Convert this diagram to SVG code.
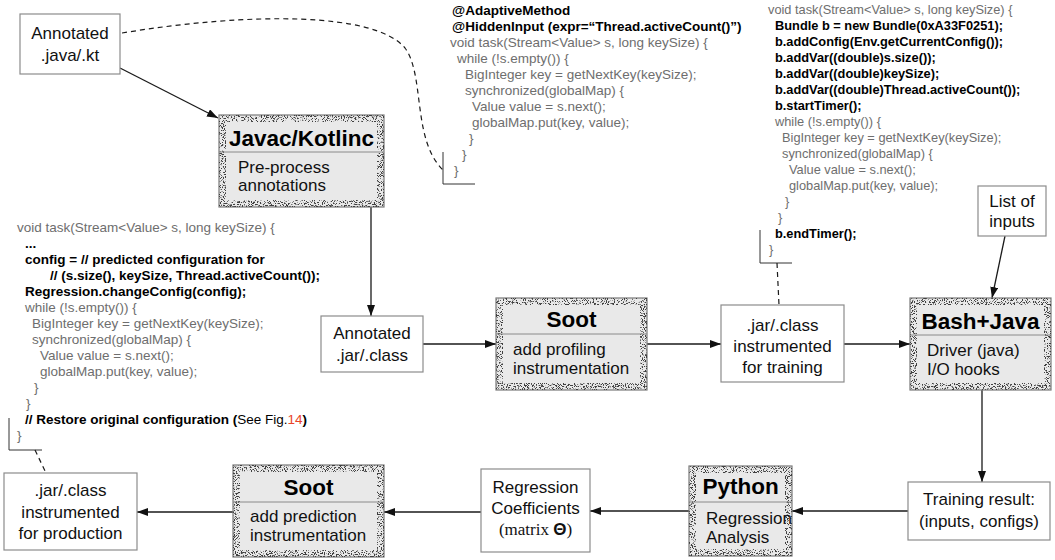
<svg xmlns="http://www.w3.org/2000/svg" width="1055" height="560" viewBox="0 0 1055 560">
<style>
.bg{fill:#ffffff}
.box{fill:#ffffff;stroke:#8c8c8c;stroke-width:1.2}
.tool{fill:#e9e9e9;stroke:#7a7a7a;stroke-width:1.2}
.band{fill:none;stroke:#000;stroke-width:7}
.div{stroke:#8a8a8a;stroke-width:1}
.lbl{font-family:"Liberation Sans",Arial,sans-serif;font-size:17px;fill:#111}
.mid{text-anchor:middle}
.ttl{font-family:"Liberation Sans",Arial,sans-serif;font-size:22.5px;font-weight:bold;fill:#000;text-anchor:middle}
.code{font-family:"Liberation Sans",Arial,sans-serif;font-size:13.5px;fill:#6e6e6e}
.code2{font-size:12.8px}
.b{font-weight:bold;fill:#000}
.conn{stroke:#1a1a1a;stroke-width:1.3;fill:none}
.dash{stroke:#1a1a1a;stroke-width:1.2;fill:none;stroke-dasharray:5,4}
.brk{stroke:#333;stroke-width:1;fill:none}
</style>
<defs>
<marker id="ah" markerWidth="11" markerHeight="8" refX="11" refY="4" orient="auto" markerUnits="userSpaceOnUse">
<path d="M0,0 L11,4 L0,8 z" fill="#111"/>
</marker>
<filter id="spk" color-interpolation-filters="sRGB">
<feTurbulence type="fractalNoise" baseFrequency="0.9" numOctaves="2" seed="7" result="t"/>
<feColorMatrix in="t" type="matrix" values="0 0 0 0 0.25  0 0 0 0 0.25  0 0 0 0 0.25  12 0 0 0 -6.4" result="d"/>
<feComposite in="d" in2="SourceAlpha" operator="in"/>
</filter>
</defs>
<rect class="bg" x="0" y="0" width="1055" height="560"/>

<!-- code blocks -->
<g id="code1" class="code">
<text x="452" y="15" class="b">@AdaptiveMethod</text>
<text x="452" y="31" class="b">@HiddenInput (expr=“Thread.activeCount()”)</text>
<text x="450" y="47">void task(Stream&lt;Value&gt; s, long keySize) {</text>
<text x="457" y="63">while (!s.empty()) {</text>
<text x="465" y="79">BigInteger key = getNextKey(keySize);</text>
<text x="465" y="95">synchronized(globalMap) {</text>
<text x="472" y="111">Value value = s.next();</text>
<text x="472" y="127">globalMap.put(key, value);</text>
<text x="469" y="143">}</text>
<text x="462" y="159">}</text>
<text x="454" y="175">}</text>
<path class="brk" d="M443,152 V184 H475"/>
</g>

<g id="code2" class="code code2">
<text x="768" y="14">void task(Stream&lt;Value&gt; s, long keySize) {</text>
<text x="775" y="30" class="b">Bundle b = new Bundle(0xA33F0251);</text>
<text x="775" y="46" class="b">b.addConfig(Env.getCurrentConfig());</text>
<text x="775" y="62" class="b">b.addVar((double)s.size());</text>
<text x="775" y="78" class="b">b.addVar((double)keySize);</text>
<text x="775" y="94" class="b">b.addVar((double)Thread.activeCount());</text>
<text x="775" y="110" class="b">b.startTimer();</text>
<text x="775" y="126">while (!s.empty()) {</text>
<text x="782" y="142">BigInteger key = getNextKey(keySize);</text>
<text x="782" y="158">synchronized(globalMap) {</text>
<text x="789" y="174">Value value = s.next();</text>
<text x="789" y="190">globalMap.put(key, value);</text>
<text x="785" y="206">}</text>
<text x="778" y="222">}</text>
<text x="775" y="238" class="b">b.endTimer();</text>
<text x="769" y="254">}</text>
<path class="brk" d="M760,230 V263 H792"/>
</g>

<g id="code3" class="code">
<text x="17" y="232">void task(Stream&lt;Value&gt; s, long keySize) {</text>
<text x="25" y="248" class="b">...</text>
<text x="25" y="264" class="b">config = // predicted configuration for</text>
<text x="50" y="280" class="b">// (s.size(), keySize, Thread.activeCount());</text>
<text x="25" y="296" class="b">Regression.changeConfig(config);</text>
<text x="25" y="312">while (!s.empty()) {</text>
<text x="32" y="328">BigInteger key = getNextKey(keySize);</text>
<text x="32" y="344">synchronized(globalMap) {</text>
<text x="40" y="360">Value value = s.next();</text>
<text x="40" y="376">globalMap.put(key, value);</text>
<text x="34" y="392">}</text>
<text x="26" y="408">}</text>
<text x="25" y="424" class="b">// Restore original configuration (<tspan style="font-weight:normal;fill:#000">See Fig.</tspan><tspan style="font-weight:normal;fill:#e8442a">14</tspan>)</text>
<text x="17" y="440">}</text>
<path class="brk" d="M9,418 V450 H42"/>
</g>

<!-- connectors -->
<g id="connectors">
<path class="dash" d="M122,33 C250,12 375,12 405,48 C425,75 412,140 443,170"/>
<path class="dash" d="M777,263 L779,305"/>
<path class="dash" d="M35,450 L46,473"/>
<path class="conn" d="M120,68 L218,118" marker-end="url(#ah)"/>
<path class="conn" d="M371,207 V316" marker-end="url(#ah)"/>
<path class="conn" d="M423,344 H496" marker-end="url(#ah)"/>
<path class="conn" d="M647,344 H721" marker-end="url(#ah)"/>
<path class="conn" d="M844,344 H910" marker-end="url(#ah)"/>
<path class="conn" d="M1005,236 L992,298" marker-end="url(#ah)"/>
<path class="conn" d="M982,390 V482" marker-end="url(#ah)"/>
<path class="conn" d="M908,511 H792" marker-end="url(#ah)"/>
<path class="conn" d="M689,511 H590" marker-end="url(#ah)"/>
<path class="conn" d="M481,512 H384" marker-end="url(#ah)"/>
<path class="conn" d="M233,512 H137" marker-end="url(#ah)"/>
</g>

<!-- nodes -->
<g id="n-java">
<rect class="box" x="20" y="14" width="100" height="60"/>
<text class="lbl mid" x="70" y="39">Annotated</text>
<text class="lbl mid" x="70" y="61">.java/.kt</text>
</g>

<g id="n-javac">
<rect class="tool" x="219" y="115" width="165" height="92"/>
<rect class="band" x="222.5" y="118.5" width="158" height="85" filter="url(#spk)"/>
<line class="div" x1="219" y1="152" x2="384" y2="152"/>
<text class="ttl" x="301.5" y="146">Javac/Kotlinc</text>
<text class="lbl" x="238" y="173">Pre-process</text>
<text class="lbl" x="238" y="191">annotations</text>
</g>

<g id="n-jar">
<rect class="box" x="321" y="316" width="102" height="56"/>
<text class="lbl mid" x="372" y="339">Annotated</text>
<text class="lbl mid" x="372" y="361">.jar/.class</text>
</g>

<g id="n-soot1">
<rect class="tool" x="496" y="298" width="151" height="92"/>
<rect class="band" x="499.5" y="301.5" width="144" height="85" filter="url(#spk)"/>
<line class="div" x1="496" y1="334" x2="647" y2="334"/>
<text class="ttl" x="571.5" y="327">Soot</text>
<text class="lbl" x="513" y="355">add profiling</text>
<text class="lbl" x="513" y="374">instrumentation</text>
</g>

<g id="n-train-jar">
<rect class="box" x="721" y="305" width="123" height="77"/>
<text class="lbl mid" x="782.5" y="331">.jar/.class</text>
<text class="lbl mid" x="782.5" y="352">instrumented</text>
<text class="lbl mid" x="782.5" y="373">for training</text>
</g>

<g id="n-bash">
<rect class="tool" x="910" y="298" width="141" height="92"/>
<rect class="band" x="913.5" y="301.5" width="134" height="85" filter="url(#spk)"/>
<line class="div" x1="910" y1="335" x2="1051" y2="335"/>
<text class="ttl" x="980.5" y="329">Bash+Java</text>
<text class="lbl" x="927" y="356">Driver (java)</text>
<text class="lbl" x="927" y="375">I/O hooks</text>
</g>

<g id="n-inputs">
<rect class="box" x="978" y="186" width="68" height="50"/>
<text class="lbl mid" x="1012" y="207">List of</text>
<text class="lbl mid" x="1012" y="227">inputs</text>
</g>

<g id="n-result">
<rect class="box" x="908" y="482" width="142" height="58"/>
<text class="lbl mid" x="979" y="505">Training result:</text>
<text class="lbl mid" x="979" y="527">(inputs, configs)</text>
</g>

<g id="n-python">
<rect class="tool" x="689" y="466" width="103" height="90"/>
<rect class="band" x="692.5" y="469.5" width="96" height="83" filter="url(#spk)"/>
<line class="div" x1="689" y1="502" x2="792" y2="502"/>
<text class="ttl" x="740.5" y="494">Python</text>
<text class="lbl" x="706" y="524">Regression</text>
<text class="lbl" x="706" y="543">Analysis</text>
</g>

<g id="n-coef">
<rect class="box" x="481" y="469" width="109" height="83"/>
<text class="lbl mid" x="535.5" y="493">Regression</text>
<text class="lbl mid" x="535.5" y="514">Coefficients</text>
<text class="lbl mid" x="535.5" y="535"><tspan style="font-family:'Liberation Serif',serif">(matrix </tspan><tspan style="font-weight:bold">Θ</tspan><tspan style="font-family:'Liberation Serif',serif">)</tspan></text>
</g>

<g id="n-soot2">
<rect class="tool" x="233" y="465" width="151" height="92"/>
<rect class="band" x="236.5" y="468.5" width="144" height="85" filter="url(#spk)"/>
<line class="div" x1="233" y1="502" x2="384" y2="502"/>
<text class="ttl" x="308.5" y="495">Soot</text>
<text class="lbl" x="250" y="522">add prediction</text>
<text class="lbl" x="250" y="541">instrumentation</text>
</g>

<g id="n-prod">
<rect class="box" x="4" y="473" width="133" height="77"/>
<text class="lbl mid" x="70.5" y="496">.jar/.class</text>
<text class="lbl mid" x="70.5" y="518">instrumented</text>
<text class="lbl mid" x="70.5" y="539">for production</text>
</g>
</svg>
